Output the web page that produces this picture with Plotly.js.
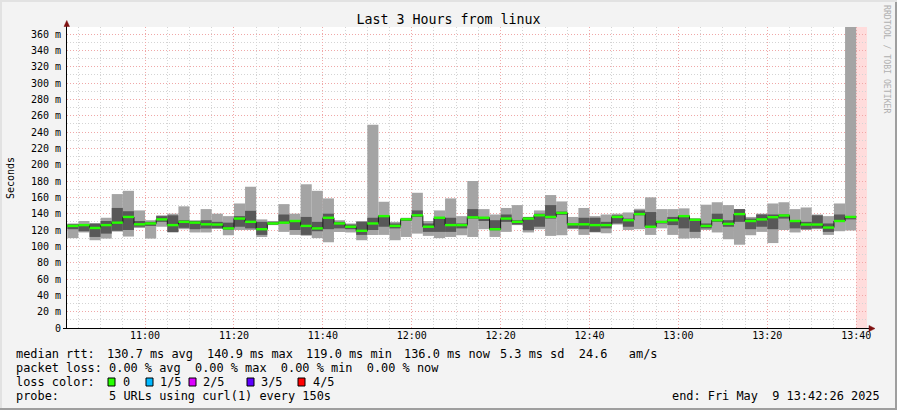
<!DOCTYPE html>
<html>
<head>
<meta charset="utf-8">
<script src="https://cdn.plot.ly/plotly-3.0.1.min.js"></script>
<style>html,body{margin:0;padding:0;background:#f3f3f3;}#chart{width:897px;height:410px;}</style>
</head>
<body>
<div id="chart"></div>
<script>
// ---- data (ms), one entry per 150 s step, 10:42:30 .. 13:40:00 ----
const pingMax = [128,131,128,135,164,168,144,132,138,140,149,132,145.6,140,137,152.5,173,133,131,151.7,140,176,168,158.7,132,128,131,249,154.6,130,135,165.6,131,144,158.7,137,180,145.6,139,147,150.5,136,144,162.8,155,136,147,137,139,140,141.5,146,160,145.6,145.6,146.5,134,151,154,150.5,145.6,136,140,152.5,154,145.6,147.6,139,137,152.5,368.6];
const pingHi  = [127,127,128,131,147,143,131,130,137,138,132,131,132,130,129,137,143.5,130,130,139,132,136,130,140,130,126.7,130,135,138,128,134,144,128,136,135,128,145.6,136,132,139,132,136,140,150.5,142.5,128,135,135,130,138,134,144,142,131,136,138,134,128,140,132,145.6,134,139,139,139,132,130,138,128,139,137];
const medianRtt = [125,126,122.5,126,129,136,127,128,133,126,130,129,127,126.7,122,134,130,121,128,129,131,125,122,135,128,124,119,128,137,125,133,138,124,135,126,126,135.5,135,121,134,130,134,138,136,140.9,127,127,126,126,136,132,139.5,124,130,132,137,132.5,125,132,127.5,139.5,131,133,135.7,137.8,131,126.7,126.7,123,131,136];
const pingLo  = [121,118.5,111.5,115.6,119,120,124,125,130,117.5,122.6,121,121.8,122,120.5,124,122,114,126.5,128,120,114,118.5,121,122,121,114,120,124,122,131,136,117.7,117.7,117.7,122,134,131,119.7,130,126.7,119.7,124,134,138.5,122,121,117.7,122,128,124,138,123,128,126,122,117.7,122,130,124,130,121,124,121,134,122,121,122,117.7,130,133];
const pingMin = [110,117,107.5,109.5,118,112,122.5,109.5,124,117,121,117,117,121.5,113.6,120,120,111.5,126,117.7,114,113,110,105,117.6,117,107.5,114,114,107.5,111.5,115.6,112.8,110,111.5,113.6,111.5,121,111.5,117.7,126,117,121,112.8,113.6,121,114,117,116,126.7,120,121,114,122,114,109.5,110,120,117,108.7,102,113.6,117.7,104,120,117,120,121,114,118.5,119.5];
const yTickVals = [0,20,40,60,80,100,120,140,160,180,200,220,240,260,280,300,320,340,360];
const yTickText = ["0","20 m","40 m","60 m","80 m","100 m","120 m","140 m","160 m","180 m","200 m","220 m","240 m","260 m","280 m","300 m","320 m","340 m","360 m"];
const lossLabels = ["0","1/5","2/5","3/5","4/5"];
const lossColors = ["#26ff00","#00b8ff","#dd00ff","#5e00ff","#ff0000"];
const rttParts = ["median rtt:","130.7 ms avg","140.9 ms max","119.0 ms min","136.0 ms now","5.3 ms sd  24.6   am/s"];
const lossLine = "packet loss: 0.00 % avg  0.00 % max  0.00 % min  0.00 % now";
const probeLine = "probe:       5 URLs using curl(1) every 150s";
const endText = "end: Fri May  9 13:42:26 2025";
const titleText = "Last 3 Hours from linux";

// ---- geometry helpers ----
const STEP = 150000;
const firstStep = Date.UTC(2025,4,9,10,42,30);
const rangeStart = Date.UTC(2025,4,9,10,42,26);
const rangeEnd = Date.UTC(2025,4,9,13,42,26);
const yTop = Math.max(...pingMax);
const PL=67, PT=27, PW=800, PH=301;
const px = x => (x-PL)/PW;
const py = y => (PT+PH-y)/PH;
const nb = s => s.replace(/ /g,"\u00a0");
const FONT = "DejaVu Sans Mono";

const starts = medianRtt.map((_,i)=>firstStep+i*STEP);

const light = {type:'bar', x:starts, base:pingMin, y:pingMax.map((v,i)=>v-pingMin[i]), width:STEP, offset:0,
  marker:{color:'#a4a4a4', line:{width:0}}, hoverinfo:'skip'};
const dark = {type:'bar', x:starts, base:pingLo, y:pingHi.map((v,i)=>v-pingLo[i]), width:STEP, offset:0,
  marker:{color:'#585858', line:{width:0}}, hoverinfo:'skip'};
const stepX = starts.concat([starts[starts.length-1]+STEP]);
const stepY = medianRtt.concat([medianRtt[medianRtt.length-1]]);
const step = {type:'scatter', mode:'lines', x:stepX, y:stepY, line:{shape:'hv', color:'#1a1a1a', width:1}, hoverinfo:'skip'};
const gx=[], gy=[];
starts.forEach((s,i)=>{gx.push(s,s+STEP,null); gy.push(medianRtt[i],medianRtt[i],null);});
const green = {type:'scatter', mode:'lines', x:gx, y:gy, line:{color:lossColors[0], width:2.4}, hoverinfo:'skip'};

const annotations = [];
const txt = (t,x,y,opt={}) => annotations.push(Object.assign({text:nb(t), xref:'paper', yref:'paper', x:px(x), y:py(y),
  xanchor:'left', yanchor:'middle', showarrow:false, borderpad:0, font:{family:FONT, size:11.9, color:'#000'}}, opt));
const rttX = [15, 106, 206, 305, 403, 499];
rttParts.forEach((t,i)=>txt(t, rttX[i], 354));
txt(lossLine, 15, 368);
txt("loss color:", 15, 382);
const boxX = [108,146,189,247,298];
const labX = [122,159,202,260,312];
lossLabels.forEach((l,i)=>txt(l, labX[i], 382));
txt(probeLine, 15, 396);
txt(endText, 881, 396, {xanchor:'right'});
txt("RRDTOOL / TOBI OETIKER", 887, 60, {xanchor:'center', textangle:90, font:{family:FONT, size:8.2, color:'#b0b0b0'}});
txt("Seconds", 10, 178, {xanchor:'center', textangle:-90, font:{family:FONT, size:10, color:'#000'}});

const shapes = [];
// unknown (no data) slot
shapes.push({type:'rect', xref:'x', yref:'paper', x0:starts[starts.length-1]+STEP, x1:rangeEnd, y0:0, y1:1,
  fillcolor:'#ffdcdc', line:{width:0}, layer:'below'});
// loss colour boxes
lossColors.forEach((c,i)=>shapes.push({type:'rect', xref:'paper', yref:'paper', x0:px(boxX[i]), x1:px(boxX[i]+7), y0:py(386), y1:py(378),
  fillcolor:c, line:{color:'#000', width:1}}));
// axis extensions + arrows
shapes.push({type:'line', xref:'paper', yref:'paper', x0:px(66.5), x1:px(66.5), y0:py(328), y1:py(22), line:{color:'#000', width:1}});
shapes.push({type:'path', xref:'paper', yref:'paper', path:`M${px(64)},${py(26.5)} L${px(69.5)},${py(26.5)} L${px(66.75)},${py(20.5)} Z`,
  fillcolor:'#7f1010', line:{color:'#7f1010', width:0.5}});
shapes.push({type:'line', xref:'paper', yref:'paper', x0:px(63), x1:px(870), y0:py(328.5), y1:py(328.5), line:{color:'#000', width:1}});
shapes.push({type:'path', xref:'paper', yref:'paper', path:`M${px(869)},${py(325.5)} L${px(869)},${py(331.5)} L${px(875)},${py(328.5)} Z`,
  fillcolor:'#7f1010', line:{color:'#7f1010', width:0.5}});
// frame shading
shapes.push({type:'rect', xref:'paper', yref:'paper', x0:px(0), x1:px(897), y0:py(408), y1:py(410), fillcolor:'#9e9e9e', line:{width:0}});
shapes.push({type:'rect', xref:'paper', yref:'paper', x0:px(895), x1:px(897), y0:py(410), y1:py(0), fillcolor:'#9e9e9e', line:{width:0}});
shapes.push({type:'rect', xref:'paper', yref:'paper', x0:px(0), x1:px(897), y0:py(2), y1:py(0), fillcolor:'#e2e2e2', line:{width:0}});
shapes.push({type:'rect', xref:'paper', yref:'paper', x0:px(0), x1:px(2), y0:py(408), y1:py(0), fillcolor:'#e2e2e2', line:{width:0}});

const layout = {
  width:897, height:410,
  margin:{l:PL, r:897-PL-PW, t:PT, b:410-PT-PH, pad:0},
  paper_bgcolor:'#f3f3f3', plot_bgcolor:'#ffffff',
  showlegend:false, barmode:'overlay',
  title:{text:titleText, x:0.5, xref:'container', xanchor:'center', y:1-19/410, yref:'container', yanchor:'middle',
    font:{family:FONT, size:13.3, color:'#000'}},
  xaxis:{type:'date', range:[rangeStart, rangeEnd], tick0:Date.UTC(2025,4,9,11,0), dtick:1200000, tickformat:'%H:%M',
    showgrid:true, gridcolor:'#f0a8a8', griddash:'1px,2px', gridwidth:1,
    minor:{dtick:300000, tick0:Date.UTC(2025,4,9,11,0), showgrid:true, gridcolor:'#d4d4d4', griddash:'1px,2px', gridwidth:1, ticks:''},
    showline:false, zeroline:false, ticks:'', tickfont:{family:FONT, size:10, color:'#000'}, fixedrange:true},
  yaxis:{range:[0, yTop], tickmode:'array', tickvals:yTickVals, ticktext:yTickText,
    showgrid:true, gridcolor:'#f0a8a8', griddash:'1px,2px', gridwidth:1,
    minor:{dtick:10, tick0:0, showgrid:true, gridcolor:'#d4d4d4', griddash:'1px,2px', gridwidth:1, ticks:''},
    showline:false, zeroline:false, ticks:'', ticklabelstandoff:5, tickfont:{family:FONT, size:10, color:'#000'}, fixedrange:true},
  annotations, shapes
};
Plotly.newPlot('chart', [light, dark, step, green], layout, {displayModeBar:false, staticPlot:true});
</script>
</body>
</html>
